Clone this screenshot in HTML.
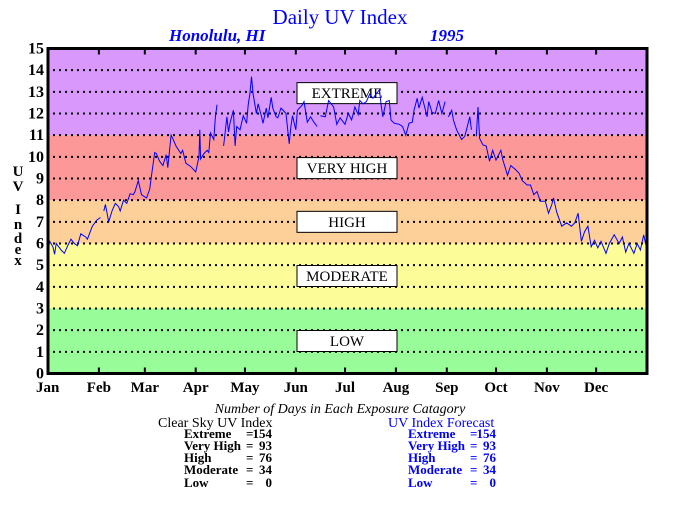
<!DOCTYPE html>
<html><head><meta charset="utf-8"><style>
html,body{margin:0;padding:0;background:#fff;}
svg text{font-family:"Liberation Serif",serif;}
</style></head><body>
<svg id="chart" width="680" height="500" viewBox="0 0 680 500" xmlns="http://www.w3.org/2000/svg">
<text x="340" y="24" text-anchor="middle" font-size="21" fill="#0000ff">Daily UV Index</text>
<text x="169" y="41" font-size="17" font-weight="bold" font-style="italic" fill="#0000ff">Honolulu, HI</text>
<text x="430" y="41" font-size="17" font-weight="bold" font-style="italic" fill="#0000ff">1995</text>
<g id="bands"></g>
<g id="grid"></g>
<g id="labels"></g>
<g id="series"></g>
<g id="axes"></g>
<g font-size="15" font-weight="bold" text-anchor="middle">
<text x="18" y="176">U</text><text x="18" y="191">V</text>
<text x="18" y="214">I</text><text x="18" y="229">n</text><text x="18" y="243">d</text><text x="18" y="254">e</text><text x="18" y="265">x</text>
</g>
<text x="340" y="413" text-anchor="middle" font-size="14" font-style="italic">Number of Days in Each Exposure Catagory</text>
<text x="158" y="427" font-size="14">Clear Sky UV Index</text>
<text x="388" y="427" font-size="14" fill="#0000ff">UV Index Forecast</text>
<g id="summary"></g>
</svg>
<script>
const days = [0,1,3,4,5,7,8,10,12,14,16,18,20,23,24,27,30,32,null,34,35,37,39,41,43,44,46,48,50,52,53,55,57,60,62,63,65,66,68,70,72,73,75,76,78,81,82,84,87,90,92,92.5,93,95,97,98,99,101,102,103,null,107,109,110,111,113,114,115,117,119,121,122,123,124,125,127,128,130,131,133,134,136,137,139,140,142,145,147,148,149,151,152,155,156,158,160,162,164,null,166,169,171,174,176,178,181,183,185,187,189,190,192,194,196,198,200,202,203,204,206,208,209,211,214,216,218,220,222,223,225,226,228,231,232,234,236,238,240,242,null,244,246,247,249,252,254,257,258,null,261,262,263,265,267,269,271,273,276,277,280,282,285,287,289,292,294,296,298,300,303,305,307,308,310,313,316,319,321,323,325,327,329,331,333,335,337,340,342,345,348,350,352,354,357,359,361,363,365];
const uv = [5.5,6.1,5.85,5.5,6.0,5.8,5.7,5.55,5.9,6.2,6.0,5.9,6.45,6.3,6.2,6.8,7.1,7.2,null,7.5,7.8,7.0,7.5,7.85,7.7,7.5,8.0,7.85,8.3,8.25,8.4,8.9,8.25,8.1,8.5,9.1,10.2,10.15,9.8,9.6,10.1,9.5,11.0,10.85,10.5,10.15,10.3,9.7,9.55,9.3,10.0,11.25,9.9,10.15,10.3,10.2,11.1,10.8,11.85,12.4,null,10.5,11.85,11.15,11.6,12.15,10.5,11.4,11.25,11.9,11.55,12.4,12.9,13.7,12.9,12.0,12.45,11.9,11.55,12.25,11.8,12.75,12.25,11.85,11.8,12.25,12.0,10.6,11.4,11.9,11.25,12.15,12.4,12.55,11.6,11.85,11.6,11.4,null,11.9,11.85,12.6,12.3,11.5,11.8,11.5,12.0,11.7,12.3,11.95,12.6,12.45,12.55,12.9,12.7,12.9,13.1,12.4,11.85,12.55,12.6,11.7,11.55,11.5,11.4,11.0,11.55,11.6,12.15,12.7,12.25,12.75,11.85,12.55,12.05,12.0,12.6,12.0,12.55,null,11.85,12.15,11.7,11.25,10.8,10.95,11.85,11.25,null,10.95,12.3,10.85,10.55,10.5,9.8,10.3,9.85,10.3,9.9,9.15,9.6,9.4,9.25,8.9,8.7,8.7,8.25,8.4,7.95,7.95,7.4,7.8,8.1,7.45,6.8,6.95,6.8,6.95,7.4,6.1,6.55,6.8,5.85,6.15,5.8,6.1,5.55,6.0,6.4,6.0,6.3,5.6,6.0,5.55,6.0,5.7,6.4,5.7];
const yTicks = [0,1,2,3,4,5,6,7,8,9,10,11,12,13,14,15];
const months = ["Jan","Feb","Mar","Apr","May","Jun","Jul","Aug","Sep","Oct","Nov","Dec"];
const monthStart = [0,31,59,90,120,151,181,212,243,273,304,334];
const bandNames = ["LOW","MODERATE","HIGH","VERY HIGH","EXTREME"];
const bandLo = [0,3,6,8,11];
const bandHi = [3,6,8,11,15];
const bandLabelAt = [1.5,4.5,7,9.48,12.94];
const bandColors = ["#98fc98","#fcfc98","#fcd098","#fc9898","#d898fc"];
const catNames = ["Extreme","Very High","High","Moderate","Low"];
const clearCounts = [154,93,76,34,0];
const forecastCounts = [154,93,76,34,0];

const X0=48, X1=647, Y0=373.5, Y1=48.5;
const sx = d => X0 + d/365*(X1-X0);
const sy = v => Y0 - v/15*(Y0-Y1);
const NS="http://www.w3.org/2000/svg";
function mk(tag, parent){const e=document.createElementNS(NS,tag);document.getElementById(parent).appendChild(e);return e;}

for(let i=0;i<bandNames.length;i++){
  const r=mk('rect','bands');
  
  
  r.setAttribute('x',X0);r.setAttribute('width',X1-X0);
  r.setAttribute('y',sy(bandHi[i]));r.setAttribute('height',sy(bandLo[i])-sy(bandHi[i]));
  r.setAttribute('fill',bandColors[i]);
  const b=mk('rect','labels');
  
  
  b.setAttribute('x',297);b.setAttribute('width',100);
  b.setAttribute('y',sy(bandLabelAt[i])-10.5);b.setAttribute('height',21);
  b.setAttribute('fill','#fff');b.setAttribute('stroke','#000');
  const t=mk('text','labels');
  
  
  t.setAttribute('x',347);t.setAttribute('y',sy(bandLabelAt[i])+5);
  t.setAttribute('text-anchor','middle');t.setAttribute('font-size','15');
  t.textContent=bandNames[i];
}
yTicks.forEach(v=>{
  if(v>0&&v<15){
    const l=mk('line','grid');
    
    
    l.setAttribute('x1',X0+5);l.setAttribute('x2',X1);l.setAttribute('y1',sy(v));l.setAttribute('y2',sy(v));
    l.setAttribute('stroke','#000');l.setAttribute('stroke-width','2');l.setAttribute('stroke-dasharray','2,4');
  }
  const t=mk('text','axes');
  
  
  t.setAttribute('x',44);t.setAttribute('y',sy(v)+5);t.setAttribute('text-anchor','end');
  t.setAttribute('font-size','16');t.setAttribute('font-weight','bold');
  t.textContent=v;
});
months.forEach((m,i)=>{
  const x=sx(monthStart[i]);
  if(i>0){
    const a=mk('line','axes');
    a.setAttribute('x1',x);a.setAttribute('x2',x);a.setAttribute('y1',Y1);a.setAttribute('y2',Y1+6);a.setAttribute('stroke','#000');a.setAttribute('stroke-width','2');
    const b=mk('line','axes');
    b.setAttribute('x1',x);b.setAttribute('x2',x);b.setAttribute('y1',Y0);b.setAttribute('y2',Y0-6);b.setAttribute('stroke','#000');b.setAttribute('stroke-width','2');
  }
  const t=mk('text','axes');
  
  
  t.setAttribute('x',x+(i==0?-12:0));t.setAttribute('y',392);
  t.setAttribute('text-anchor',i==0?'start':'middle');
  t.setAttribute('font-size','15');t.setAttribute('font-weight','bold');
  t.textContent=m;
});
const frame=mk('rect','axes');


frame.setAttribute('x',X0);frame.setAttribute('y',Y1);frame.setAttribute('width',X1-X0);frame.setAttribute('height',Y0-Y1);
frame.setAttribute('fill','none');frame.setAttribute('stroke','#000');frame.setAttribute('stroke-width','3');

let d='',pen=false;
for(let i=0;i<days.length;i++){
  if(days[i]===null||uv[i]===null){pen=false;continue;}
  d+=(pen?'L':'M')+sx(days[i]).toFixed(1)+','+sy(uv[i]).toFixed(1);pen=true;
}
const p=mk('path','series');


p.setAttribute('d',d);p.setAttribute('fill','none');p.setAttribute('stroke','#0000ff');p.setAttribute('stroke-width','1');

const rowY=[438,450,462,474,487];
function summary(x,color,counts,prefix){
  catNames.forEach((c,i)=>{
    const a=mk('text','summary');
    
    
    a.setAttribute('x',x);a.setAttribute('y',rowY[i]);a.setAttribute('font-size','13');a.setAttribute('font-weight','bold');a.setAttribute('fill',color);
    a.textContent=c;
    const e=mk('text','summary');
    
    
    e.setAttribute('x',x+62);e.setAttribute('y',rowY[i]);e.setAttribute('font-size','13');e.setAttribute('font-weight','bold');e.setAttribute('fill',color);
    e.textContent='=';
    const n=mk('text','summary');
    
    
    n.setAttribute('x',x+88);n.setAttribute('y',rowY[i]);n.setAttribute('text-anchor','end');n.setAttribute('font-size','13');n.setAttribute('font-weight','bold');n.setAttribute('fill',color);
    n.textContent=counts[i];
  });
}
summary(184,'#000',clearCounts,'clear-sky');
summary(408,'#0000ff',forecastCounts,'forecast');
</script>
</body></html>
